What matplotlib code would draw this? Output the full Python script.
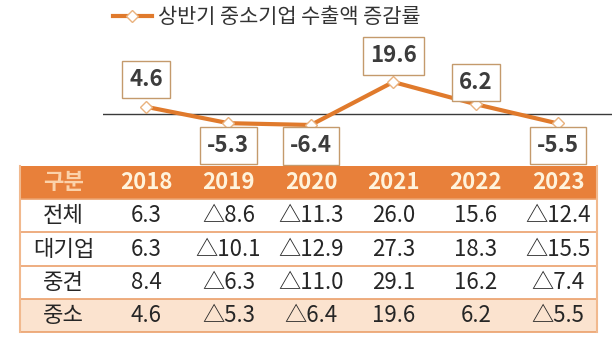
import matplotlib
matplotlib.use('Agg')
import matplotlib.pyplot as plt
from matplotlib.patches import Rectangle
from matplotlib.lines import Line2D

plt.rcParams['font.family'] = ['Noto Sans CJK KR', 'DejaVu Sans']

# ---------------- data ----------------
years = ['2018', '2019', '2020', '2021', '2022', '2023']
sme_growth = [4.6, -5.3, -6.4, 19.6, 6.2, -5.5]
series_label = '상반기 중소기업 수출액 증감률'
row_header = '구분'
row_names = ['전체', '대기업', '중견', '중소']
total = [6.3, -8.6, -11.3, 26.0, 15.6, -12.4]
large = [6.3, -10.1, -12.9, 27.3, 18.3, -15.5]
midsize = [8.4, -6.3, -11.0, 29.1, 16.2, -7.4]
sme = [4.6, -5.3, -6.4, 19.6, 6.2, -5.5]
table_rows = [total, large, midsize, sme]


def fmt(v):
    return f'△{abs(v):.1f}' if v < 0 else f'{v:.1f}'


W, H = 615, 353
fig = plt.figure(figsize=(W / 100, H / 100), dpi=100)
fig.patch.set_facecolor('white')


def px_axes(l, t, r, b):
    return fig.add_axes([l / W, 1 - b / H, (r - l) / W, (b - t) / H])


ORANGE = '#e07a2c'

# ---------------- line chart ----------------
ax = px_axes(103, 40, 612, 165)
ax.set_xlim(-0.522, 5.655)
ax.set_ylim(-30.6, 45.0)
ax.axis('off')
ax.axhline(0, color='#3a3a3a', lw=1.0, zorder=1)
xs = list(range(len(years)))
ax.plot(xs, sme_growth, color=ORANGE, lw=3, marker='D', ms=6.5,
        mfc='white', mec='#eab27e', mew=1, solid_joinstyle='round', zorder=3)

label_offsets = [-27, 22, 21, -26, -22, 22]  # pixels (down positive)
for x, v, off in zip(xs, sme_growth, label_offsets):
    ax.annotate(f'{v:.1f}', (x, v), xytext=(0, -off), textcoords='offset pixels',
                ha='center', va='center', fontsize=16, fontweight='bold',
                color='#3c3c3c',
                bbox=dict(boxstyle='square,pad=0.32', fc='white', ec='#c49a6c', lw=1),
                zorder=4)

# legend
leg_handle = Line2D([], [], color=ORANGE, lw=3, marker='D', ms=6.5,
                    mfc='white', mec='#eab27e', mew=1)
fig.legend([leg_handle], [series_label], loc='center left',
           bbox_to_anchor=(113 / W, 1 - 17 / H), frameon=False,
           fontsize=15, handlelength=1.85, handletextpad=0.3,
           borderpad=0, borderaxespad=0, labelcolor='#333333')

# ---------------- table ----------------
tx = px_axes(20, 166, 597, 332)
x0, x1 = -1.53, 5.47
tx.set_xlim(x0, x1)
tx.set_ylim(5, 0)
tx.axis('off')

tx.add_patch(Rectangle((x0, 0), x1 - x0, 1, fc='#e8803a', ec='none'))
for r in range(1, 5):
    fc = '#fbe3cf' if r == 4 else 'white'
    tx.add_patch(Rectangle((x0, r), x1 - x0, 1, fc=fc, ec='none'))
for r in range(1, 6):
    tx.plot([x0, x1], [r, r], color='#eba06b', lw=1.2, clip_on=False)
tx.plot([x0, x0], [0, 5], color='#f1b98e', lw=1.5, clip_on=False)
tx.plot([x1, x1], [0, 5], color='#f1b98e', lw=1.5, clip_on=False)

tx.text(-1, 0.5, row_header, ha='center', va='center', fontsize=16,
        fontweight='bold', color='#fbd2aa')
for i, y in enumerate(years):
    tx.text(i, 0.5, y, ha='center', va='center', fontsize=16,
            fontweight='bold', color='#fff3dc')
for r, (name, vals) in enumerate(zip(row_names, table_rows), start=1):
    tx.text(-1, r + 0.5, name, ha='center', va='center', fontsize=16,
            color='#262626')
    for i, v in enumerate(vals):
        tx.text(i, r + 0.5, fmt(v), ha='center', va='center', fontsize=16,
                color='#262626')

fig.savefig('out.png', dpi=100, facecolor='white')
